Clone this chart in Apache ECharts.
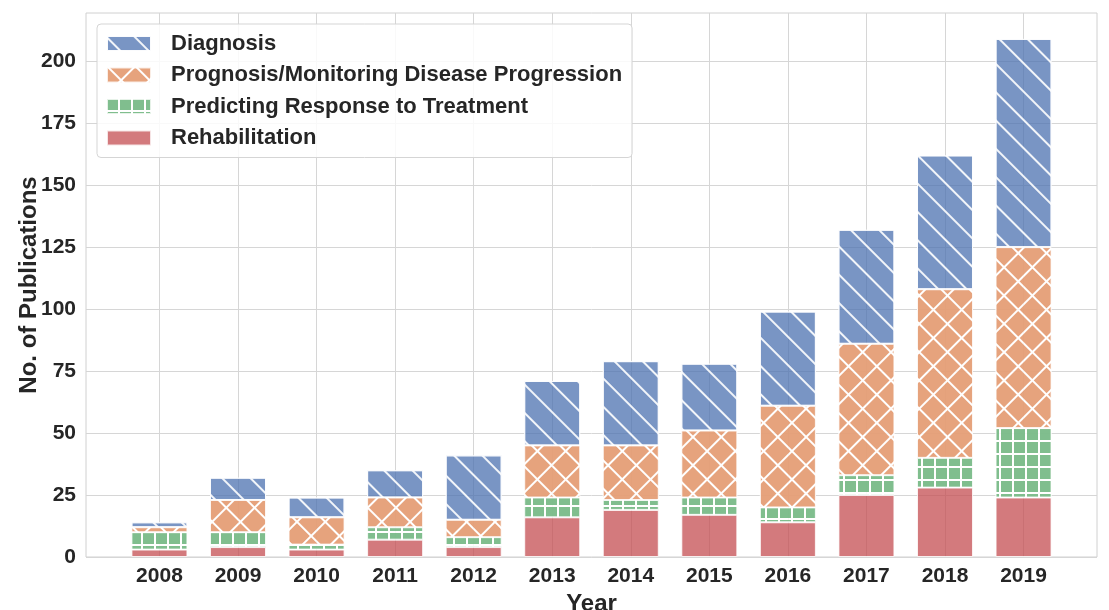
<!DOCTYPE html>
<html>
<head>
<meta charset="utf-8">
<script src="https://cdn.jsdelivr.net/npm/echarts@6/dist/echarts.min.js"></script>
<style>
html,body{margin:0;padding:0;background:#fff;}
#main{width:1109px;height:610px;}
</style>
</head>
<body>
<div id="main"></div>
<script>
var years = [2008, 2009, 2010, 2011, 2012, 2013, 2014, 2015, 2016, 2017, 2018, 2019];
var rehabilitation = [3, 4, 3, 7, 4, 16, 19, 17, 14, 25, 28, 24];
var responseToTreatment = [7, 6, 2, 5, 4, 8, 4, 7, 6, 8, 12, 28];
var prognosis = [2, 13, 11, 12, 7, 21, 22, 27, 41, 53, 68, 73];
var diagnosis = [2, 9, 8, 11, 26, 26, 34, 27, 38, 46, 54, 84];
var yTicks = [0, 25, 50, 75, 100, 125, 150, 175, 200];
var seriesNames = ['Diagnosis', 'Prognosis/Monitoring Disease Progression', 'Predicting Response to Treatment', 'Rehabilitation'];

var TXT = '#262626';
var FONT = '"Liberation Sans", Arial, sans-serif';

function pairs(vals) {
  // [value, year] so the stacked dimension is the value (y)
  return vals.map(function (v, i) { return [v, years[i]]; });
}

var edge = 'rgba(255,255,255,0.8)';
var baseSeries = {
  type: 'bar',
  stack: 'total',
  barWidth: 56,
  encode: { x: 1, y: 0 }
};

function mk(name, vals, itemStyle) {
  return Object.assign({}, baseSeries, {
    name: name,
    data: pairs(vals),
    itemStyle: itemStyle,
    emphasis: { disabled: true }
  });
}

var series = [
  mk(seriesNames[3], rehabilitation, {
    color: 'rgba(196,78,82,0.75)', borderColor: edge, borderWidth: 1
  }),
  mk(seriesNames[2], responseToTreatment, {
    color: 'rgba(255,255,255,0.85)', borderColor: edge, borderWidth: 1,
    decal: { symbol: 'rect', symbolSize: 1, dashArrayX: [11, 1.5], dashArrayY: [11, 1.5], rotation: 0, color: 'rgba(85,168,104,0.75)' }
  }),
  mk(seriesNames[1], prognosis, {
    color: 'rgba(255,255,255,0.85)', borderColor: edge, borderWidth: 1,
    decal: { symbol: 'rect', symbolSize: 1, dashArrayX: [18, 1.4], dashArrayY: [18, 1.4], rotation: Math.PI / 4, color: 'rgba(221,132,82,0.75)' }
  }),
  mk(seriesNames[0], diagnosis, {
    color: 'rgba(76,114,176,0.75)', borderColor: edge, borderWidth: 1,
    decal: { symbol: 'rect', symbolSize: 1, dashArrayX: [1, 0], dashArrayY: [1.1, 17.4], rotation: Math.PI / 4, color: 'rgba(255,255,255,0.9)' }
  })
];

var chart = echarts.init(document.getElementById('main'), null, { renderer: 'canvas' });
chart.setOption({
  animation: false,
  backgroundColor: '#fff',
  textStyle: { fontFamily: FONT },
  grid: { left: 86, right: 12, top: 13, bottom: 53, show: true, borderColor: '#d0d0d0', borderWidth: 1, containLabel: false, outerBoundsMode: 'none' },
  legend: {
    data: seriesNames,
    orient: 'vertical',
    left: 97, top: 24,
    icon: 'rect',
    itemWidth: 44, itemHeight: 15, itemGap: 9.5,
    padding: [8.5, 10, 8.5, 9],
    backgroundColor: 'rgba(255,255,255,0.85)',
    borderColor: '#d5d5d5', borderWidth: 1, borderRadius: 4,
    textStyle: { fontSize: 22, fontWeight: 'bold', color: TXT, fontFamily: FONT, lineHeight: 22, padding: [0, 0, 0, 15] }
  },
  xAxis: {
    type: 'value',
    min: 2007.065, max: 2019.935,
    name: 'Year', nameLocation: 'middle', nameGap: 30,
    nameTextStyle: { fontSize: 24, fontWeight: 'bold', color: TXT, fontFamily: FONT },
    axisLine: { show: false },
    axisTick: { show: false, customValues: years },
    axisLabel: { customValues: years, fontSize: 21, fontWeight: 'bold', color: TXT, fontFamily: FONT, margin: 9, formatter: function (v) { return String(v); } },
    splitLine: { show: true, lineStyle: { color: '#d6d6d6', width: 1 } }
  },
  yAxis: {
    type: 'value',
    min: 0, max: 219.45,
    name: 'No. of Publications', nameLocation: 'middle', nameGap: 45, nameMoveOverlap: false,
    nameTextStyle: { fontSize: 24, fontWeight: 'bold', color: TXT, fontFamily: FONT },
    axisLine: { show: false },
    axisTick: { show: false, customValues: yTicks },
    axisLabel: { customValues: yTicks, fontSize: 21, fontWeight: 'bold', color: TXT, fontFamily: FONT, margin: 10 },
    splitLine: { show: true, lineStyle: { color: '#d6d6d6', width: 1 } }
  },
  series: series
});
</script>
</body>
</html>
